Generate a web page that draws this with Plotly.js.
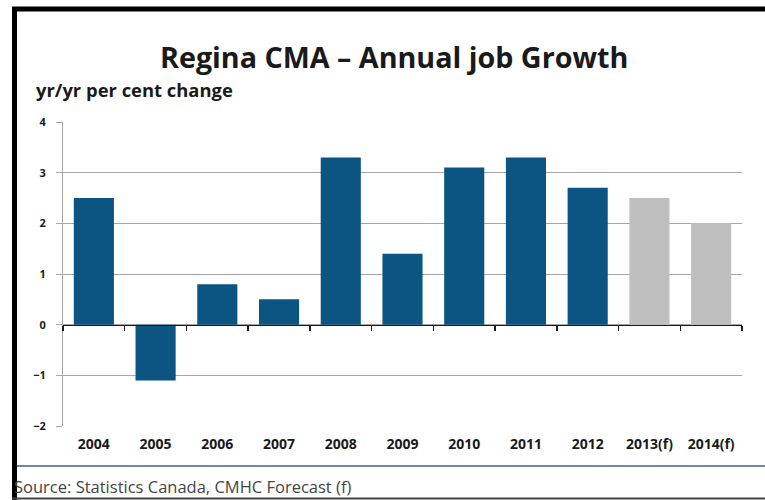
<!DOCTYPE html>
<html>
<head>
<meta charset="utf-8">
<script src="https://cdn.plot.ly/plotly-3.0.1.min.js"></script>
<style>html,body{margin:0;padding:0;background:#fff;}#chart{width:765px;height:500px;}</style>
</head>
<body>
<div id="chart"></div>
<script>
// ---- data ----
const categories = ["2004","2005","2006","2007","2008","2009","2010","2011","2012","2013(f)","2014(f)"];
const growth = [2.5, -1.1, 0.8, 0.5, 3.3, 1.4, 3.1, 3.3, 2.7, 2.5, 2.0];
const isForecast = [false,false,false,false,false,false,false,false,false,true,true];
const yTicks = [-2,-1,0,1,2,3,4];
const titleText = "Regina CMA \u2013 Annual job Growth";
const subtitleText = "yr/yr per cent change";
const sourceText = "Source: Statistics Canada, CMHC Forecast (f)";

// ---- layout geometry (pixels) ----
const FW = 765, FH = 500;
const L = 63, R = 742, T = 122, B = 426;
const W = R - L, H = B - T;
const px = v => (v - L) / W;
const py = v => (B - v) / H;

const BLUE = "#0c5583", GREY = "#bfbfbf";
const FONT = "'Open Sans', Lato, sans-serif";

const n = categories.length;
const boundaries = Array.from({length: n + 1}, (_, i) => i - 0.5);
const yMin = yTicks[0], yMax = yTicks[yTicks.length - 1];

const bars = {
  type: "bar",
  x: categories,
  y: growth,
  marker: { color: isForecast.map(f => f ? GREY : BLUE), line: { width: 0 } },
  hoverinfo: "x+y",
  xaxis: "x", yaxis: "y"
};
// empty trace so the zero-line axis (x2) gets drawn
const zeroAxisHolder = { type: "scatter", x: [], y: [], xaxis: "x2", yaxis: "y", hoverinfo: "skip", showlegend: false };

const layout = {
  width: FW, height: FH,
  margin: { l: L, r: FW - R, t: T, b: FH - B, pad: 0 },
  paper_bgcolor: "#fff", plot_bgcolor: "#fff",
  showlegend: false,
  bargap: 0.35,
  font: { family: FONT, color: "#1a1a1a" },
  xaxis: {
    type: "category", categoryarray: categories, range: [-0.5, n - 0.5],
    showline: false, showgrid: false, zeroline: false, ticks: "",
    tickfont: { family: FONT, size: 14, color: "#1a1a1a", weight: "bold" },
    ticklabelstandoff: 8, fixedrange: true
  },
  xaxis2: {
    overlaying: "x", anchor: "free", position: (0 - yMin) / (yMax - yMin),
    type: "linear", range: [-0.5, n - 0.5],
    tickmode: "array", tickvals: boundaries, showticklabels: false,
    ticks: "outside", ticklen: 5, tickcolor: "#1a1a1a", tickwidth: 1.5,
    showline: true, linecolor: "#1a1a1a", linewidth: 1.5,
    showgrid: false, zeroline: false, fixedrange: true
  },
  yaxis: {
    range: [yMin, yMax],
    tickmode: "array", tickvals: yTicks,
    ticks: "outside", ticklen: 6, tickcolor: "#a6a6a6", tickwidth: 1,
    showline: true, linecolor: "#a6a6a6", linewidth: 1,
    showgrid: true, gridcolor: "#a6a6a6", gridwidth: 1,
    zeroline: false,
    tickfont: { family: FONT, size: 11, color: "#1a1a1a", weight: "bold" },
    ticklabelstandoff: 8, fixedrange: true
  },
  annotations: [
    { text: titleText, xref: "paper", yref: "paper", x: px(394), y: py(57),
      xanchor: "center", yanchor: "middle", showarrow: false,
      font: { family: FONT, size: 28.7, color: "#1a1a1a", weight: "bold" } },
    { text: subtitleText, xref: "paper", yref: "paper", x: px(34), y: py(89),
      xanchor: "left", yanchor: "middle", showarrow: false,
      font: { family: FONT, size: 18.4, color: "#1a1a1a", weight: "bold" } },
    { text: sourceText, xref: "paper", yref: "paper", x: px(12), y: py(486),
      xanchor: "left", yanchor: "middle", showarrow: false,
      font: { family: FONT, size: 16.5, color: "#444" } }
  ],
  shapes: [
    { type: "line", xref: "paper", yref: "paper", x0: px(15), x1: px(FW), y0: py(466), y1: py(466),
      line: { color: "#6f8aa0", width: 2 } },
    { type: "line", xref: "paper", yref: "paper", x0: px(12), x1: px(FW), y0: py(9), y1: py(9),
      line: { color: "#000", width: 5 } },
    { type: "line", xref: "paper", yref: "paper", x0: px(14.5), x1: px(14.5), y0: py(7), y1: py(FH),
      line: { color: "#000", width: 5 } },
    { type: "line", xref: "paper", yref: "paper", x0: px(12), x1: px(FW), y0: py(498.5), y1: py(498.5),
      line: { color: "#444", width: 2 } }
  ]
};

Plotly.newPlot("chart", [bars, zeroAxisHolder], layout, { staticPlot: true, displayModeBar: false });
</script>
</body>
</html>
